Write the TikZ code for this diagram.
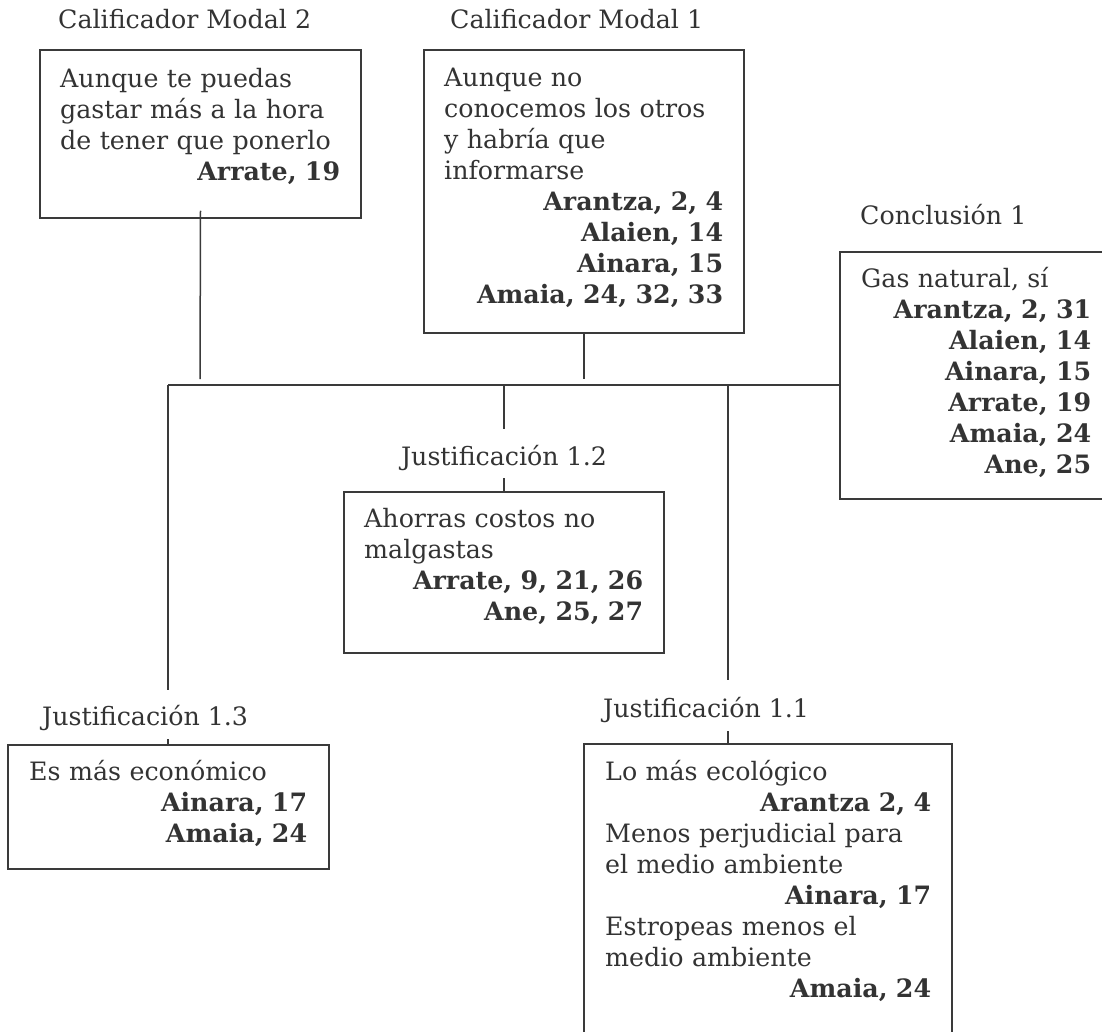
\documentclass[tikz,border=0pt]{standalone}
\usepackage{fontspec}
\setmainfont{DejaVu Serif}
\definecolor{ink}{HTML}{333333}
\definecolor{rulecol}{HTML}{3A3A3A}
% right-aligned bold speaker reference inside a box
\newcommand\who[1]{\leavevmode\hskip0pt plus 1filll\textbf{#1}}
\begin{document}
\begin{tikzpicture}[x=1pt,y=-1pt,
  box/.style={draw=rulecol, line width=1.5pt, inner sep=0pt, rectangle},
  lbl/.style={inner sep=0pt, text=ink, font=\fontsize{25.3}{31}\selectfont},
  body/.style={inner sep=0pt, anchor=north west, text=ink, align=left,
               font=\fontsize{25.3}{31}\selectfont},
  link/.style={draw=rulecol, line width=1.5pt}]
\useasboundingbox (0,0) rectangle (1102,1032);
\clip (0,0) rectangle (1102,1032);

% ---- Calificador Modal 2
\node[lbl, anchor=base west] (cm2l) at (58,29) {Calificador Modal 2};
\node[box, minimum width=321pt, minimum height=168pt] (cm2) at (200.5,134) {};
\node[body, text width=280pt] (cm2t) at (60,65.3)
  {\strut Aunque te puedas\\gastar más a la hora\\de tener que ponerlo\\\who{Arrate, 19}};

% ---- Calificador Modal 1
\node[lbl, anchor=base west] (cm1l) at (450,29) {Calificador Modal 1};
\node[box, minimum width=320pt, minimum height=283pt] (cm1) at (584,191.5) {};
\node[body, text width=279pt] (cm1t) at (444,64.3)
  {\strut Aunque no\\conocemos los otros\\y habría que\\informarse\\
   \who{Arantza, 2, 4}\\\who{Alaien, 14}\\\who{Ainara, 15}\\\who{Amaia, 24, 32, 33}};

% ---- Conclusión 1
\node[lbl, anchor=base west] (cl) at (860,225) {Conclusión 1};
\node[box, minimum width=270pt, minimum height=247pt] (concl) at (975,375.5) {};
\node[body, text width=230pt] (conclt) at (861,265.3)
  {\strut Gas natural, sí\\\who{Arantza, 2, 31}\\\who{Alaien, 14}\\\who{Ainara, 15}\\
   \who{Arrate, 19}\\\who{Amaia, 24}\\\who{Ane, 25}};

% ---- Justificación 1.2
\node[lbl, anchor=base] (j12l) at (504,465) {Justificación 1.2};
\node[box, minimum width=320pt, minimum height=161pt] (j12) at (504,572.5) {};
\node[body, text width=279pt] (j12t) at (364,505.3)
  {\strut Ahorras costos no\\malgastas\\\who{Arrate, 9, 21, 26}\\\who{Ane, 25, 27}};

% ---- Justificación 1.3
\node[lbl, anchor=base west] (j13l) at (42,725) {Justificación 1.3};
\node[box, minimum width=321pt, minimum height=124pt] (j13) at (168.5,807) {};
\node[body, text width=278pt] (j13t) at (29,758.3)
  {\strut Es más económico\\\who{Ainara, 17}\\\who{Amaia, 24}};

% ---- Justificación 1.1
\node[lbl, anchor=base west] (j11l) at (603,717) {Justificación 1.1};
\node[box, minimum width=368pt, minimum height=296pt] (j11) at (768,892) {};
\node[body, text width=326pt] (j11t) at (605,758.3)
  {\strut Lo más ecológico\\\who{Arantza 2, 4}\\Menos perjudicial para\\el medio ambiente\\
   \who{Ainara, 17}\\Estropeas menos el\\medio ambiente\\\who{Amaia, 24}};

% ---- connectors
\coordinate (barL) at (168,385);
\coordinate (barM) at (504,385);
\coordinate (barR) at (728,385);
\coordinate (cm2end) at (200,379);
\coordinate (cm1end) at (584,379);
\coordinate (leftend) at (168,690);
\coordinate (midend) at (504,429);
\coordinate (rightend) at (728,680);

\draw[link] (barL) -- (concl.west |- barL);
\draw[link] ([yshift=8pt]cm2.south) -- (cm2end);
\draw[link] (cm1.south) -- (cm1end);
\draw[link] (barL) -- (leftend);
\draw[link] (barM) -- (midend);
\draw[link] (barR) -- (rightend);
\draw[link] ([xshift=-0.5pt]j13.north) -- ++(0,-5);
\draw[link] (j12.north) -- ++(0,-13);
\draw[link] ([xshift=-40pt]j11.north) -- ++(0,-12);
\end{tikzpicture}
\end{document}
